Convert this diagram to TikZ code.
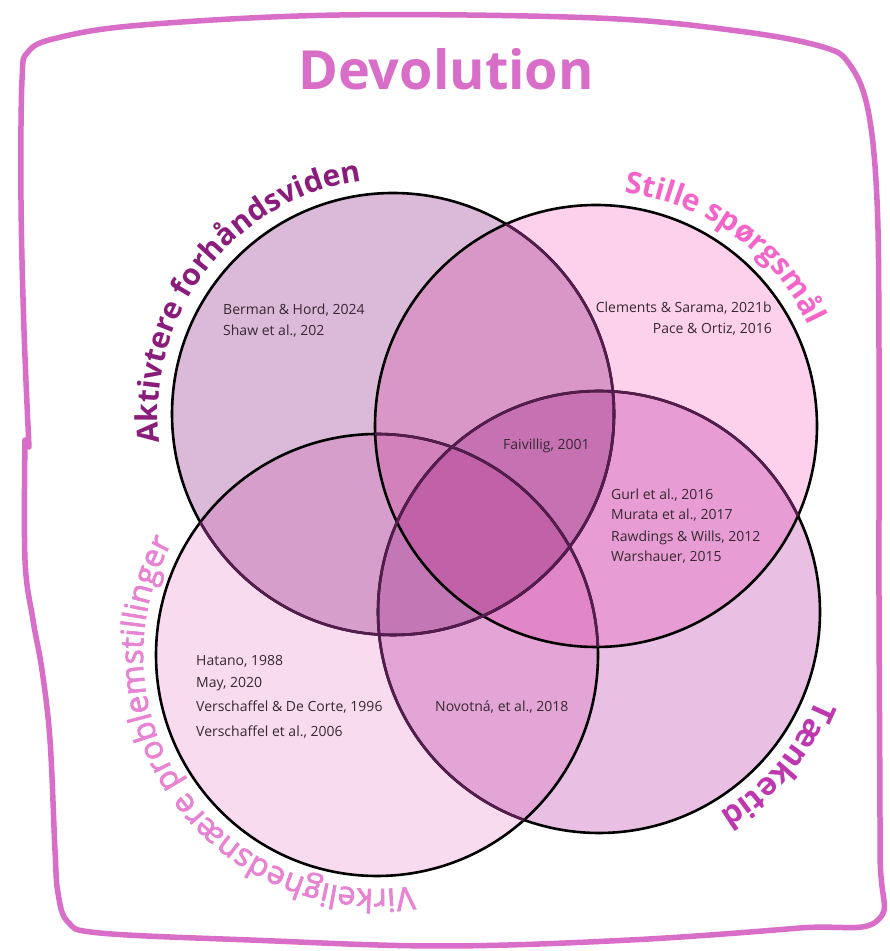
\documentclass[tikz,border=0pt]{standalone}
\usepackage{fontspec}
\setmainfont{Open Sans}
\newfontfamily\semibf{Open Sans}[FakeBold=2.2]
\usetikzlibrary{decorations.text}
\definecolor{fA}{HTML}{DBB9D8}
\definecolor{fB}{HTML}{FDD1EC}
\definecolor{fC}{HTML}{F9DBF0}
\definecolor{fD}{HTML}{E9C0E4}
\definecolor{framec}{HTML}{D86EC8}
\definecolor{labA}{HTML}{8A1C7C}
\definecolor{labB}{HTML}{F564C8}
\definecolor{labC}{HTML}{E882D2}
\definecolor{labD}{HTML}{BE37AF}
\definecolor{citec}{HTML}{372832}
\definecolor{coveredc}{HTML}{551C4E}
\begin{document}
\begin{tikzpicture}[x=1pt,y=1pt,
  ring/.style={line width=2.6pt},
  covered/.style={line width=2.6pt, draw=coveredc},
  cite/.style={font=\fontsize{14}{17}\selectfont, text=citec, inner sep=0pt, anchor=base west},
  citer/.style={cite, anchor=base east},
  R/.style={radius=221}
]
\fill[white] (0,0) rectangle (890,951);
\useasboundingbox (0,0) rectangle (890,951);
\coordinate (A) at (393,537);
\coordinate (B) at (596,525);
\coordinate (C) at (377,296);
\coordinate (D) at (599,339);
% fills
\begin{scope}[blend mode=multiply]
  \fill[fA] (A) circle[R];
  \fill[fD] (D) circle[R];
  \fill[fC] (C) circle[R];
  \fill[fB] (B) circle[R];
\end{scope}
% outlines
\draw[ring] (A) circle[R];
\draw[ring] (D) circle[R];
\draw[ring] (C) circle[R];
\draw[ring] (B) circle[R];
\begin{scope}\clip (D) circle[R]; \draw[covered] (A) circle[R];\end{scope}
\begin{scope}\clip (C) circle[R]; \draw[covered] (A) circle[R]; \draw[covered] (D) circle[R];\end{scope}
\begin{scope}\clip (B) circle[R]; \draw[covered] (A) circle[R]; \draw[covered] (D) circle[R]; \draw[covered] (C) circle[R];\end{scope}
% frame
\draw[framec, line width=5.5pt, line cap=round, line join=round]
  plot[smooth, tension=0.6] coordinates {(25,511) (25,391) (33,331) (42,281) (50,211) (55,101) (58,58) (68,29) (100,18) (250,11) (440,5) (630,11) (800,23) (878,31) (880,101) (879,351) (879,601) (877,751) (868,841) (850,886) (823,904) (738,920) (596,933) (340,936) (142,926) (57,913) (28,899) (22,871) (21,751) (24,621) (29,504)};
% title
\node[font=\fontsize{54}{54}\selectfont\bfseries, text=framec, inner sep=0pt, anchor=base] (title) at (446,861) {Devolution};
% curved labels
\path[shift={(A)}, decorate, decoration={text along path, text={|\color{labA}\bfseries\fontsize{30}{30}\selectfont|Aktivtere forhåndsviden}}]
  (187:235) arc[start angle=187, end angle=30, radius=235];
\path[shift={(B)}, decorate, decoration={text along path, text={|\color{labB}\bfseries\fontsize{30}{30}\selectfont|Stille spørgsmål}}]
  (83:235) arc[start angle=83, end angle=-40, radius=235];
\path[shift={(C)}, decorate, decoration={text along path, text={|\color{labC}\semibf\fontsize{32}{32}\selectfont|Virkelighedsnære problemstillinger}}]
  (279:234) arc[start angle=279, end angle=80, radius=234];
\path[shift={(D)}, decorate, decoration={text along path, text={|\color{labD}\bfseries\fontsize{32}{32}\selectfont|Tænketid}}]
  (-22:234) arc[start angle=-22, end angle=-150, radius=234];
% citations
\node[cite] (a1) at (223,636) {Berman \& Hord, 2024};
\node[cite] (a2) at (223,615) {Shaw et al., 202};
\node[citer] (b1) at (772,638) {Clements \& Sarama, 2021b};
\node[citer] (b2) at (772,617) {Pace \& Ortiz, 2016};
\node[cite] (ab) at (503,501) {Faivillig, 2001};
\node[cite] (d1) at (611,451) {Gurl et al., 2016};
\node[cite] (d2) at (611,431) {Murata et al., 2017};
\node[cite] (d3) at (611,409) {Rawdings \& Wills, 2012};
\node[cite] (d4) at (611,389) {Warshauer, 2015};
\node[cite] (c1) at (196,285) {Hatano, 1988};
\node[cite] (c2) at (196,263) {May, 2020};
\node[cite] (c3) at (196,239) {Verschaffel \& De Corte, 1996};
\node[cite] (c4) at (196,214) {Verschaffel et al., 2006};
\node[cite] (cd) at (435,239) {Novotná, et al., 2018};
\end{tikzpicture}
\end{document}
